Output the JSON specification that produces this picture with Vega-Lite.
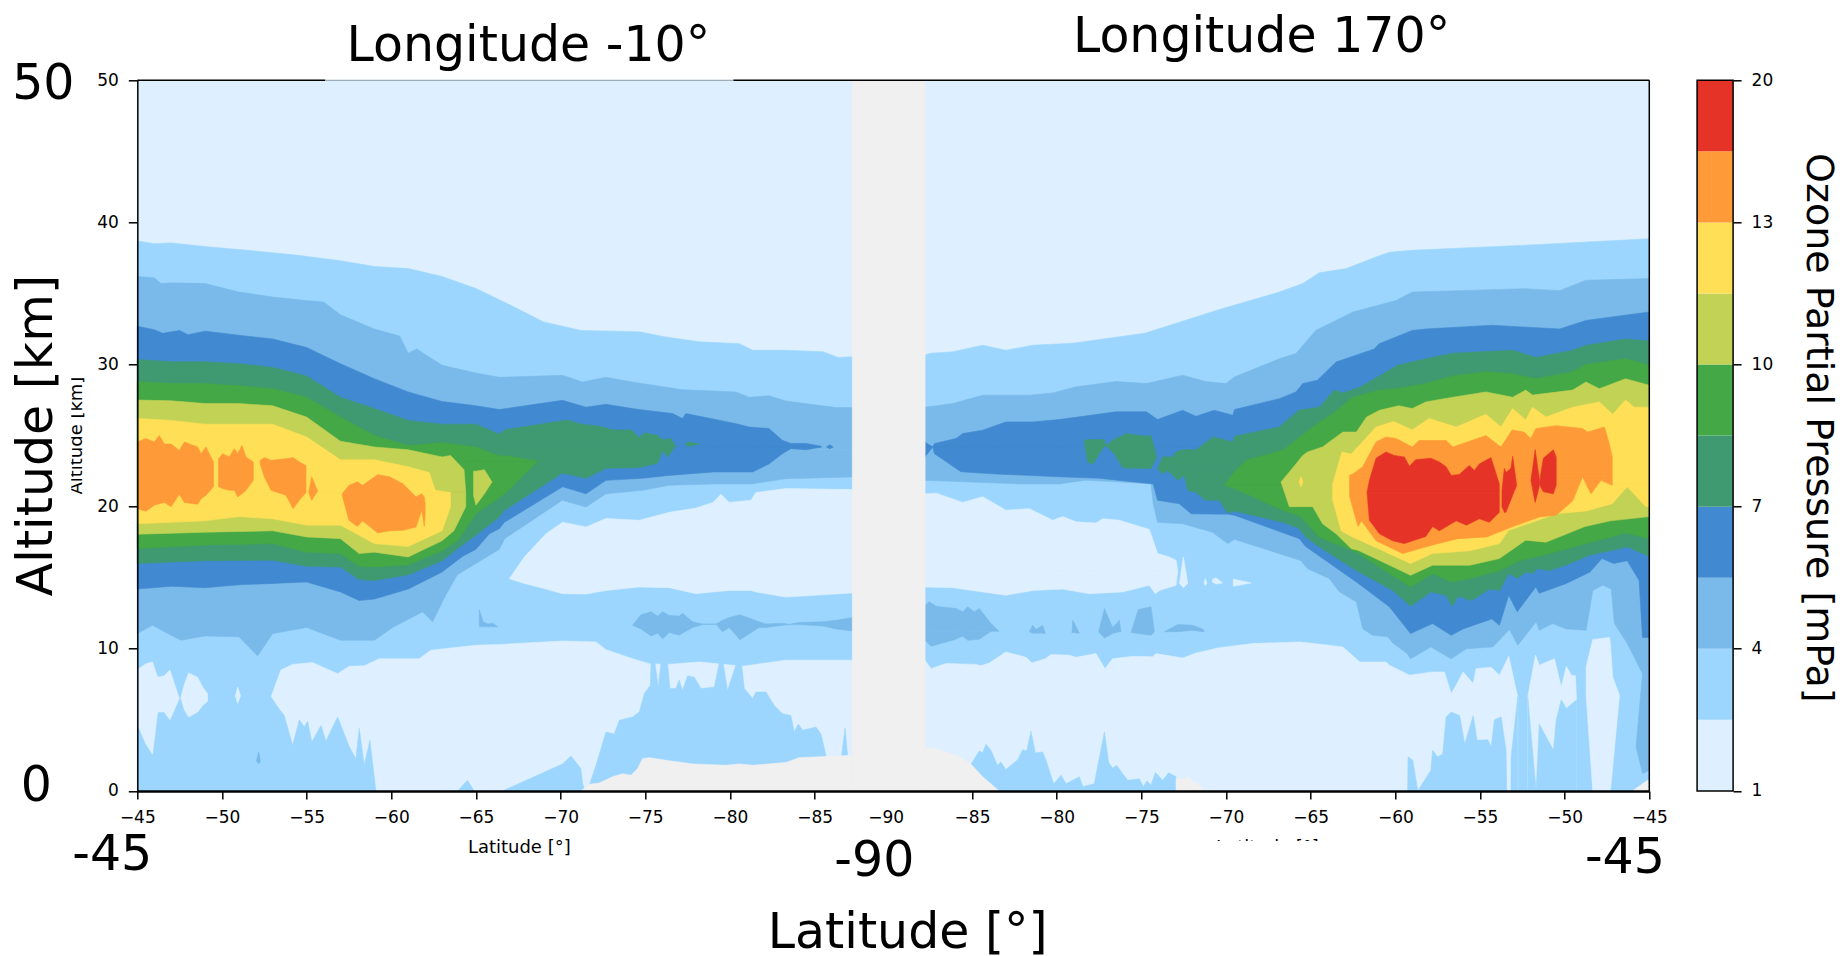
{"$schema":"https://vega.github.io/schema/vega-lite/v6.json","background":"white","padding":{"left":11.3,"top":12.3,"right":0,"bottom":0},"config":{"font":"DejaVu Sans","view":{"stroke":null}},
"datasets":{"contours":[
{"k":0,"p":0,"t":0,"a":0,"b":50},{"k":0,"p":0,"t":89.3,"a":0,"b":50},
{"k":1,"p":1,"t":0,"a":0,"b":38.7},{"k":1,"p":1,"t":1,"a":0,"b":38.5},{"k":1,"p":1,"t":2,"a":0,"b":38.55},{"k":1,"p":1,"t":4,"a":0,"b":38.3},{"k":1,"p":1,"t":6.5,"a":0,"b":38.04},{"k":1,"p":1,"t":9.4,"a":0,"b":37.7},{"k":1,"p":1,"t":12,"a":0,"b":37.3},{"k":1,"p":1,"t":14,"a":0,"b":36.9},{"k":1,"p":1,"t":16,"a":0,"b":36.75},{"k":1,"p":1,"t":18,"a":0,"b":36.2},{"k":1,"p":1,"t":20,"a":0,"b":35.35},{"k":1,"p":1,"t":22,"a":0,"b":34.2},{"k":1,"p":1,"t":24,"a":0,"b":33},{"k":1,"p":1,"t":26.2,"a":0,"b":32.4},{"k":1,"p":1,"t":29.65,"a":0,"b":32.3},{"k":1,"p":1,"t":31.2,"a":0,"b":31.94},{"k":1,"p":1,"t":33.2,"a":0,"b":31.6},{"k":1,"p":1,"t":35.55,"a":0,"b":31.47},{"k":1,"p":1,"t":36.35,"a":0,"b":31},{"k":1,"p":1,"t":38.3,"a":0,"b":31},{"k":1,"p":1,"t":40.5,"a":0,"b":30.9},{"k":1,"p":1,"t":41.4,"a":0,"b":30.5},{"k":1,"p":1,"t":42.25,"a":0,"b":30.55},
{"k":0,"p":2,"t":0,"a":4.7,"b":8.53},{"k":0,"p":2,"t":0.51,"a":3.3,"b":8.95},{"k":0,"p":2,"t":0.9,"a":2.58,"b":9.07},{"k":0,"p":2,"t":1.2,"a":5.55,"b":8},{"k":0,"p":2,"t":1.59,"a":5.55,"b":8.1},{"k":0,"p":2,"t":1.93,"a":5,"b":8.5},{"k":0,"p":2,"t":2.48,"a":6.5,"b":6.5},
{"k":0,"p":3,"t":2.58,"a":6.5,"b":6.6},{"k":0,"p":3,"t":2.78,"a":5.7,"b":7.5},{"k":0,"p":3,"t":3.03,"a":5.2,"b":8.3},{"k":0,"p":3,"t":3.56,"a":5.55,"b":8},{"k":0,"p":3,"t":3.86,"a":6,"b":7.3},{"k":0,"p":3,"t":4.15,"a":6.3,"b":6.85},
{"k":0,"p":4,"t":5.79,"a":6.7,"b":6.7},{"k":0,"p":4,"t":5.93,"a":6.15,"b":7.3},{"k":0,"p":4,"t":6.1,"a":6.7,"b":6.7},
{"k":0,"p":5,"t":7.9,"a":0,"b":6.6},{"k":0,"p":5,"t":8.48,"a":0,"b":8.5},{"k":0,"p":5,"t":9.17,"a":0,"b":8.9},{"k":0,"p":5,"t":10.35,"a":0,"b":9.03},{"k":0,"p":5,"t":11.83,"a":0,"b":8.25},{"k":0,"p":5,"t":12.52,"a":0,"b":8.77},{"k":0,"p":5,"t":13.4,"a":0,"b":8.8},{"k":0,"p":5,"t":14.29,"a":0,"b":9.3},{"k":0,"p":5,"t":16.65,"a":0,"b":9.3},{"k":0,"p":5,"t":17.34,"a":0,"b":9.9},{"k":0,"p":5,"t":20,"a":0,"b":10.25},{"k":0,"p":5,"t":21.38,"a":0,"b":10.3},{"k":0,"p":5,"t":25.12,"a":0,"b":10.55},{"k":0,"p":5,"t":27.09,"a":0,"b":10.48},{"k":0,"p":5,"t":27.68,"a":0,"b":9.94},{"k":0,"p":5,"t":29.25,"a":0,"b":9.3},{"k":0,"p":5,"t":30.24,"a":0,"b":8.95},{"k":0,"p":5,"t":31.32,"a":0,"b":8.9},{"k":0,"p":5,"t":33.19,"a":0,"b":9.07},{"k":0,"p":5,"t":34.27,"a":0,"b":8.95},{"k":0,"p":5,"t":35.75,"a":0,"b":8.77},{"k":0,"p":5,"t":38.31,"a":0,"b":9.2},{"k":0,"p":5,"t":42.25,"a":0,"b":9.2},
{"k":0,"p":6,"t":21.97,"a":14.93,"b":14.93},{"k":0,"p":6,"t":22.86,"a":14.6,"b":16.46},{"k":0,"p":6,"t":24.14,"a":14.2,"b":18.1},{"k":0,"p":6,"t":25.12,"a":13.88,"b":18.9},{"k":0,"p":6,"t":26.5,"a":13.85,"b":18.57},{"k":0,"p":6,"t":27.68,"a":14.1,"b":19.16},{"k":0,"p":6,"t":29.65,"a":14.35,"b":19.04},{"k":0,"p":6,"t":31.42,"a":14.3,"b":19.6},{"k":0,"p":6,"t":33,"a":13.88,"b":19.9},{"k":0,"p":6,"t":34,"a":14,"b":20.3},{"k":0,"p":6,"t":34.47,"a":14.05,"b":20.87},{"k":0,"p":6,"t":34.96,"a":14.1,"b":20.3},{"k":0,"p":6,"t":36.24,"a":14.1,"b":20.45},{"k":0,"p":6,"t":36.54,"a":14,"b":21},{"k":0,"p":6,"t":38.31,"a":13.64,"b":21.27},{"k":0,"p":6,"t":42.25,"a":13.93,"b":21.2},
{"k":1,"p":7,"t":7.8,"a":0,"b":6.6},{"k":1,"p":7,"t":7.9,"a":0,"b":6.6},{"k":1,"p":7,"t":8.29,"a":0,"b":5.9},{"k":1,"p":7,"t":8.68,"a":0,"b":5.3},{"k":1,"p":7,"t":9.17,"a":0,"b":3.2},{"k":1,"p":7,"t":9.57,"a":0,"b":5},{"k":1,"p":7,"t":9.86,"a":0,"b":4.5},{"k":1,"p":7,"t":10.06,"a":0,"b":4.9},{"k":1,"p":7,"t":10.31,"a":0,"b":3.44},{"k":1,"p":7,"t":10.85,"a":0,"b":4.6},{"k":1,"p":7,"t":11.14,"a":0,"b":3.5},{"k":1,"p":7,"t":11.83,"a":0,"b":5.2},{"k":1,"p":7,"t":12.52,"a":0,"b":3.1},{"k":1,"p":7,"t":12.91,"a":0,"b":2.27},{"k":1,"p":7,"t":13.11,"a":0,"b":4.4},{"k":1,"p":7,"t":13.4,"a":0,"b":1.8},{"k":1,"p":7,"t":13.74,"a":0,"b":3.56},{"k":1,"p":7,"t":14.09,"a":0,"b":0},
{"k":1,"p":8,"t":21.58,"a":0,"b":0},{"k":1,"p":8,"t":25.12,"a":0,"b":1.9},{"k":1,"p":8,"t":25.61,"a":0,"b":2.46},{"k":1,"p":8,"t":26.2,"a":0,"b":1.57},{"k":1,"p":8,"t":26.3,"a":0,"b":0.5},{"k":1,"p":8,"t":26.46,"a":0,"b":0},{"k":1,"p":8,"t":26.7,"a":0,"b":0.4},{"k":1,"p":8,"t":27.09,"a":0,"b":1.8},{"k":1,"p":8,"t":27.68,"a":0,"b":4.14},{"k":1,"p":8,"t":28.17,"a":0,"b":4},{"k":1,"p":8,"t":28.47,"a":0,"b":4.97},{"k":1,"p":8,"t":29.25,"a":0,"b":5.2},{"k":1,"p":8,"t":29.65,"a":0,"b":5.55},{"k":1,"p":8,"t":29.94,"a":0,"b":6.84},{"k":1,"p":8,"t":30.3,"a":0,"b":7.43},{"k":1,"p":8,"t":30.34,"a":0,"b":9},{"k":1,"p":8,"t":30.57,"a":0,"b":9},{"k":1,"p":8,"t":30.77,"a":0,"b":7.3},{"k":1,"p":8,"t":30.93,"a":0,"b":9},{"k":1,"p":8,"t":31.32,"a":0,"b":9},{"k":1,"p":8,"t":31.46,"a":0,"b":7.2},{"k":1,"p":8,"t":31.81,"a":0,"b":7.2},{"k":1,"p":8,"t":32,"a":0,"b":7.8},{"k":1,"p":8,"t":32.2,"a":0,"b":7.07},{"k":1,"p":8,"t":32.5,"a":0,"b":8.1},{"k":1,"p":8,"t":32.9,"a":0,"b":8},{"k":1,"p":8,"t":33.29,"a":0,"b":7.2},{"k":1,"p":8,"t":34.08,"a":0,"b":7.3},{"k":1,"p":8,"t":34.37,"a":0,"b":9},{"k":1,"p":8,"t":34.6,"a":0,"b":9},{"k":1,"p":8,"t":34.86,"a":0,"b":7.07},{"k":1,"p":8,"t":35.36,"a":0,"b":8.9},{"k":1,"p":8,"t":35.69,"a":0,"b":8.85},{"k":1,"p":8,"t":35.85,"a":0,"b":7.2},{"k":1,"p":8,"t":36.34,"a":0,"b":6.5},{"k":1,"p":8,"t":36.54,"a":0,"b":6.96},{"k":1,"p":8,"t":37.13,"a":0,"b":6.96},{"k":1,"p":8,"t":37.62,"a":0,"b":6},{"k":1,"p":8,"t":38.11,"a":0,"b":5.43},{"k":1,"p":8,"t":38.6,"a":0,"b":5.3},{"k":1,"p":8,"t":38.8,"a":0,"b":4.14},{"k":1,"p":8,"t":39.04,"a":0,"b":4.7},{"k":1,"p":8,"t":39.3,"a":0,"b":4.26},{"k":1,"p":8,"t":40.08,"a":0,"b":4.5},{"k":1,"p":8,"t":40.38,"a":0,"b":4},{"k":1,"p":8,"t":40.67,"a":0,"b":2.5},{"k":1,"p":8,"t":40.77,"a":0,"b":0},{"k":1,"p":8,"t":41.5,"a":0,"b":0},{"k":1,"p":8,"t":41.6,"a":0,"b":2.5},{"k":1,"p":8,"t":41.8,"a":0,"b":4.4},{"k":1,"p":8,"t":41.95,"a":0,"b":2.5},{"k":1,"p":8,"t":42,"a":0,"b":0},
{"k":1,"p":9,"t":18.92,"a":0,"b":0},{"k":1,"p":9,"t":19.5,"a":0,"b":0.75},{"k":1,"p":9,"t":19.9,"a":0,"b":0},
{"k":2,"p":10,"t":7.03,"a":2.1,"b":2.1},{"k":2,"p":10,"t":7.17,"a":1.9,"b":2.75},{"k":2,"p":10,"t":7.27,"a":2.1,"b":2.1},
{"k":2,"p":11,"t":20.2,"a":11.55,"b":12.75},{"k":2,"p":11,"t":20.43,"a":11.55,"b":11.9},{"k":2,"p":11,"t":20.7,"a":11.55,"b":11.75},{"k":2,"p":11,"t":21,"a":11.55,"b":11.8},{"k":2,"p":11,"t":21.28,"a":11.55,"b":11.55},
{"k":2,"p":12,"t":29.25,"a":11.65,"b":11.65},{"k":2,"p":12,"t":29.75,"a":11.4,"b":12.4},{"k":2,"p":12,"t":30.34,"a":10.9,"b":12.6},{"k":2,"p":12,"t":30.73,"a":11.1,"b":12.3},{"k":2,"p":12,"t":31.03,"a":10.7,"b":12.6},{"k":2,"p":12,"t":31.42,"a":11.15,"b":12.35},{"k":2,"p":12,"t":32.01,"a":10.95,"b":12.3},{"k":2,"p":12,"t":32.2,"a":11.1,"b":12.5},{"k":2,"p":12,"t":32.8,"a":11.5,"b":11.9},{"k":2,"p":12,"t":33.39,"a":11.7,"b":11.75},{"k":2,"p":12,"t":34.18,"a":11.72,"b":11.75},{"k":2,"p":12,"t":34.57,"a":11.2,"b":12},{"k":2,"p":12,"t":34.96,"a":11.5,"b":12.2},{"k":2,"p":12,"t":35.59,"a":10.64,"b":12.4},{"k":2,"p":12,"t":36.73,"a":11.5,"b":11.9},{"k":2,"p":12,"t":37.13,"a":11.5,"b":11.75},{"k":2,"p":12,"t":38.11,"a":11.65,"b":11.8},{"k":2,"p":12,"t":38.5,"a":11.7,"b":11.72},{"k":2,"p":12,"t":39.1,"a":11.7,"b":11.85},{"k":2,"p":12,"t":40.48,"a":11.6,"b":11.9},{"k":2,"p":12,"t":41.26,"a":11.4,"b":12},{"k":2,"p":12,"t":42.25,"a":11.25,"b":12.2},
{"k":2,"p":13,"t":0,"a":24,"b":36.2},{"k":2,"p":13,"t":1,"a":24,"b":36.1},{"k":2,"p":13,"t":1.4,"a":24,"b":35.7},{"k":2,"p":13,"t":2,"a":24,"b":35.75},{"k":2,"p":13,"t":4,"a":24,"b":35.7},{"k":2,"p":13,"t":6,"a":24,"b":35.1},{"k":2,"p":13,"t":8,"a":24,"b":34.75},{"k":2,"p":13,"t":10,"a":24,"b":34.5},{"k":2,"p":13,"t":11,"a":24,"b":34.4},{"k":2,"p":13,"t":12,"a":24,"b":33.5},{"k":2,"p":13,"t":14,"a":24,"b":32.5},{"k":2,"p":13,"t":15.5,"a":24,"b":32},{"k":2,"p":13,"t":16,"a":24,"b":30.8},{"k":2,"p":13,"t":16.5,"a":24,"b":31.1},{"k":2,"p":13,"t":18,"a":24,"b":29.95},{"k":2,"p":13,"t":20,"a":24,"b":29.4},{"k":2,"p":13,"t":21.38,"a":24,"b":29.1},{"k":2,"p":13,"t":25.12,"a":24,"b":29.24},{"k":2,"p":13,"t":26.3,"a":24,"b":28.77},{"k":2,"p":13,"t":27.68,"a":24,"b":29.1},{"k":2,"p":13,"t":29.25,"a":24,"b":28.77},{"k":2,"p":13,"t":32.2,"a":24,"b":28.23},{"k":2,"p":13,"t":35.36,"a":24,"b":28.07},{"k":2,"p":13,"t":36.14,"a":24,"b":27.7},{"k":2,"p":13,"t":37.3,"a":24,"b":27.8},{"k":2,"p":13,"t":38.3,"a":24,"b":27.44},{"k":2,"p":13,"t":41.26,"a":24,"b":26.97},{"k":2,"p":13,"t":42.25,"a":24,"b":26.97},
{"k":2,"p":14,"t":0,"a":11.07,"b":24},{"k":2,"p":14,"t":0.9,"a":11.65,"b":24},{"k":2,"p":14,"t":2,"a":10.95,"b":24},{"k":2,"p":14,"t":2.58,"a":10.6,"b":24},{"k":2,"p":14,"t":4,"a":10.9,"b":24},{"k":2,"p":14,"t":6,"a":10.84,"b":24},{"k":2,"p":14,"t":7.1,"a":9.5,"b":24},{"k":2,"p":14,"t":8,"a":11.07,"b":24},{"k":2,"p":14,"t":10,"a":11.5,"b":24},{"k":2,"p":14,"t":12,"a":10.6,"b":24},{"k":2,"p":14,"t":14,"a":10.6,"b":24},{"k":2,"p":14,"t":15.08,"a":11.5,"b":24},{"k":2,"p":14,"t":16.85,"a":12.6,"b":24},{"k":2,"p":14,"t":17.44,"a":11.9,"b":24},{"k":2,"p":14,"t":18.23,"a":13.8,"b":24},{"k":2,"p":14,"t":18.9,"a":15.2,"b":24},{"k":2,"p":14,"t":20,"a":16,"b":24},{"k":2,"p":14,"t":21.38,"a":17,"b":24},{"k":2,"p":14,"t":21.7,"a":17.75,"b":24},{"k":2,"p":14,"t":25.1,"a":20.45,"b":24},{"k":2,"p":14,"t":26.5,"a":19.98,"b":24},{"k":2,"p":14,"t":27.68,"a":20.9,"b":24},{"k":2,"p":14,"t":29.85,"a":21.15,"b":24},{"k":2,"p":14,"t":31.4,"a":21.5,"b":24},{"k":2,"p":14,"t":34,"a":21.6,"b":24},{"k":2,"p":14,"t":36.3,"a":21.6,"b":24},{"k":2,"p":14,"t":38.3,"a":21.97,"b":24},{"k":2,"p":14,"t":42.25,"a":22.09,"b":24},
{"k":3,"p":15,"t":0,"a":24.2,"b":32.7},{"k":3,"p":15,"t":1,"a":24.2,"b":32.45},{"k":3,"p":15,"t":1.5,"a":24.2,"b":32.2},{"k":3,"p":15,"t":2.5,"a":24.2,"b":32.4},{"k":3,"p":15,"t":3,"a":24.2,"b":32.1},{"k":3,"p":15,"t":4,"a":24.2,"b":32.35},{"k":3,"p":15,"t":6,"a":24.2,"b":32.06},{"k":3,"p":15,"t":8,"a":24.2,"b":31.8},{"k":3,"p":15,"t":10,"a":24.2,"b":31.2},{"k":3,"p":15,"t":12,"a":24.2,"b":30.06},{"k":3,"p":15,"t":14,"a":24.2,"b":29},{"k":3,"p":15,"t":16,"a":24.2,"b":28.07},{"k":3,"p":15,"t":18,"a":24.2,"b":27.4},{"k":3,"p":15,"t":20,"a":24.2,"b":27.1},{"k":3,"p":15,"t":21.38,"a":24.2,"b":26.83},{"k":3,"p":15,"t":25.12,"a":24.2,"b":27.48},{"k":3,"p":15,"t":26.5,"a":24.2,"b":27},{"k":3,"p":15,"t":27.68,"a":24.2,"b":27.2},{"k":3,"p":15,"t":29.25,"a":24.2,"b":26.9},{"k":3,"p":15,"t":29.85,"a":24.2,"b":26.8},{"k":3,"p":15,"t":31.62,"a":24.2,"b":26.55},{"k":3,"p":15,"t":32.2,"a":24.2,"b":26.2},{"k":3,"p":15,"t":32.4,"a":24.2,"b":26.55},{"k":3,"p":15,"t":35.36,"a":24.2,"b":25.84},{"k":3,"p":15,"t":36.14,"a":24.2,"b":25.6},{"k":3,"p":15,"t":37.3,"a":24.2,"b":25.5},{"k":3,"p":15,"t":38.1,"a":24.2,"b":24.67},{"k":3,"p":15,"t":38.6,"a":24.2,"b":24.45},{"k":3,"p":15,"t":39.5,"a":24.2,"b":24.45},{"k":3,"p":15,"t":40.4,"a":24.2,"b":24.25},
{"k":3,"p":16,"t":0,"a":14.2,"b":24.2},{"k":3,"p":16,"t":2,"a":14.4,"b":24.2},{"k":3,"p":16,"t":4,"a":14.3,"b":24.2},{"k":3,"p":16,"t":6,"a":14.5,"b":24.2},{"k":3,"p":16,"t":8,"a":14.6,"b":24.2},{"k":3,"p":16,"t":10,"a":14.7,"b":24.2},{"k":3,"p":16,"t":12,"a":14,"b":24.2},{"k":3,"p":16,"t":13.1,"a":13.4,"b":24.2},{"k":3,"p":16,"t":14,"a":13.5,"b":24.2},{"k":3,"p":16,"t":16,"a":14.2,"b":24.2},{"k":3,"p":16,"t":18,"a":15.4,"b":24.2},{"k":3,"p":16,"t":19.2,"a":16.5,"b":24.2},{"k":3,"p":16,"t":20,"a":17,"b":24.2},{"k":3,"p":16,"t":20.8,"a":18.1,"b":24.2},{"k":3,"p":16,"t":21.38,"a":18.45,"b":24.2},{"k":3,"p":16,"t":21.68,"a":18.9,"b":24.2},{"k":3,"p":16,"t":25.12,"a":21.4,"b":24.2},{"k":3,"p":16,"t":26.5,"a":20.9,"b":24.2},{"k":3,"p":16,"t":27.68,"a":21.85,"b":24.2},{"k":3,"p":16,"t":29.85,"a":22,"b":24.2},{"k":3,"p":16,"t":31.4,"a":22.2,"b":24.2},{"k":3,"p":16,"t":34,"a":22.44,"b":24.2},{"k":3,"p":16,"t":36.34,"a":22.44,"b":24.2},{"k":3,"p":16,"t":37.3,"a":23,"b":24.2},{"k":3,"p":16,"t":38.1,"a":23.73,"b":24.2},{"k":3,"p":16,"t":38.6,"a":24.08,"b":24.2},{"k":3,"p":16,"t":39.5,"a":24,"b":24.2},{"k":3,"p":16,"t":40.4,"a":24.2,"b":24.2},
{"k":3,"p":17,"t":40.7,"a":24.2,"b":24.2},{"k":3,"p":17,"t":40.9,"a":24.08,"b":24.35},{"k":3,"p":17,"t":41.1,"a":24.2,"b":24.2},
{"k":4,"p":18,"t":0,"a":24.3,"b":30.35},{"k":4,"p":18,"t":2,"a":24.3,"b":30.2},{"k":4,"p":18,"t":4,"a":24.3,"b":30.2},{"k":4,"p":18,"t":6,"a":24.3,"b":30.06},{"k":4,"p":18,"t":8,"a":24.3,"b":29.8},{"k":4,"p":18,"t":10,"a":24.3,"b":29.2},{"k":4,"p":18,"t":12,"a":24.3,"b":27.7},{"k":4,"p":18,"t":14,"a":24.3,"b":26.9},{"k":4,"p":18,"t":16,"a":24.3,"b":26.07},{"k":4,"p":18,"t":18,"a":24.3,"b":25.8},{"k":4,"p":18,"t":20,"a":24.3,"b":25.8},{"k":4,"p":18,"t":21.38,"a":24.3,"b":25.1},{"k":4,"p":18,"t":21.68,"a":24.3,"b":25.4},{"k":4,"p":18,"t":25.4,"a":24.3,"b":26.1},{"k":4,"p":18,"t":26.1,"a":24.3,"b":25.84},{"k":4,"p":18,"t":27.3,"a":24.3,"b":25.65},{"k":4,"p":18,"t":28.1,"a":24.3,"b":25.4},{"k":4,"p":18,"t":29.2,"a":24.3,"b":25.4},{"k":4,"p":18,"t":29.65,"a":24.3,"b":24.85},{"k":4,"p":18,"t":29.94,"a":24.3,"b":25.2},{"k":4,"p":18,"t":30.73,"a":24.3,"b":25},{"k":4,"p":18,"t":31.03,"a":24.3,"b":24.7},{"k":4,"p":18,"t":31.52,"a":24.3,"b":24.8},{"k":4,"p":18,"t":31.7,"a":24.3,"b":24.4},{"k":4,"p":18,"t":31.8,"a":24.3,"b":24.3},
{"k":4,"p":19,"t":0,"a":16,"b":24.3},{"k":4,"p":19,"t":4,"a":16.2,"b":24.3},{"k":4,"p":19,"t":8,"a":16.23,"b":24.3},{"k":4,"p":19,"t":10,"a":15.8,"b":24.3},{"k":4,"p":19,"t":12,"a":15.76,"b":24.3},{"k":4,"p":19,"t":13.1,"a":14.87,"b":24.3},{"k":4,"p":19,"t":14,"a":14.8,"b":24.3},{"k":4,"p":19,"t":16,"a":15.2,"b":24.3},{"k":4,"p":19,"t":18,"a":16.2,"b":24.3},{"k":4,"p":19,"t":19.2,"a":17.3,"b":24.3},{"k":4,"p":19,"t":20,"a":18,"b":24.3},{"k":4,"p":19,"t":21.38,"a":19.27,"b":24.3},{"k":4,"p":19,"t":21.68,"a":19.74,"b":24.3},{"k":4,"p":19,"t":25.12,"a":22.37,"b":24.3},{"k":4,"p":19,"t":26.5,"a":22,"b":24.3},{"k":4,"p":19,"t":27.68,"a":22.7,"b":24.3},{"k":4,"p":19,"t":29.65,"a":22.75,"b":24.3},{"k":4,"p":19,"t":30.04,"a":22.85,"b":24.3},{"k":4,"p":19,"t":30.73,"a":23.07,"b":24.3},{"k":4,"p":19,"t":31.03,"a":23.96,"b":24.3},{"k":4,"p":19,"t":31.32,"a":23.5,"b":24.3},{"k":4,"p":19,"t":31.8,"a":24.3,"b":24.3},
{"k":4,"p":20,"t":32.35,"a":24.4,"b":24.4},{"k":4,"p":20,"t":32.55,"a":24.25,"b":24.55},{"k":4,"p":20,"t":33.2,"a":24.4,"b":24.4},
{"k":5,"p":21,"t":0,"a":23.2,"b":28.8},{"k":5,"p":21,"t":2,"a":23.2,"b":28.66},{"k":5,"p":21,"t":4,"a":23.2,"b":28.66},{"k":5,"p":21,"t":6,"a":23.2,"b":28.5},{"k":5,"p":21,"t":8,"a":23.2,"b":28.3},{"k":5,"p":21,"t":10,"a":23.2,"b":27.7},{"k":5,"p":21,"t":12,"a":23.2,"b":26.3},{"k":5,"p":21,"t":14,"a":23.2,"b":25},{"k":5,"p":21,"t":16,"a":23.2,"b":24.3},{"k":5,"p":21,"t":18,"a":23.2,"b":24.5},{"k":5,"p":21,"t":20,"a":23.2,"b":24.2},{"k":5,"p":21,"t":21.38,"a":23.2,"b":23.54},{"k":5,"p":21,"t":21.68,"a":23.2,"b":23.6},{"k":5,"p":21,"t":23.64,"a":23.2,"b":23.2},
{"k":5,"p":22,"t":0,"a":17.05,"b":23.2},{"k":5,"p":22,"t":4,"a":17.3,"b":23.2},{"k":5,"p":22,"t":8,"a":17.4,"b":23.2},{"k":5,"p":22,"t":10,"a":16.8,"b":23.2},{"k":5,"p":22,"t":12,"a":16.7,"b":23.2},{"k":5,"p":22,"t":13.1,"a":15.8,"b":23.2},{"k":5,"p":22,"t":14,"a":15.76,"b":23.2},{"k":5,"p":22,"t":16,"a":15.9,"b":23.2},{"k":5,"p":22,"t":18,"a":16.9,"b":23.2},{"k":5,"p":22,"t":18.9,"a":17.6,"b":23.2},{"k":5,"p":22,"t":20,"a":19.5,"b":23.2},{"k":5,"p":22,"t":21.7,"a":20.9,"b":23.2},{"k":5,"p":22,"t":23.64,"a":23.2,"b":23.2},
{"k":6,"p":23,"t":0,"a":21,"b":27.5},{"k":6,"p":23,"t":2,"a":21,"b":27.45},{"k":6,"p":23,"t":4,"a":21,"b":27.25},{"k":6,"p":23,"t":6,"a":21,"b":27.25},{"k":6,"p":23,"t":8,"a":21,"b":27.1},{"k":6,"p":23,"t":10,"a":21,"b":26.3},{"k":6,"p":23,"t":12,"a":21,"b":24.6},{"k":6,"p":23,"t":14,"a":21,"b":24.2},{"k":6,"p":23,"t":16,"a":21,"b":24},{"k":6,"p":23,"t":18,"a":21,"b":23.5},{"k":6,"p":23,"t":18.5,"a":21,"b":23.6},{"k":6,"p":23,"t":19.3,"a":21,"b":22.6},{"k":6,"p":23,"t":19.4,"a":21,"b":21},
{"k":6,"p":24,"t":0,"a":18.06,"b":21},{"k":6,"p":24,"t":4,"a":18.2,"b":21},{"k":6,"p":24,"t":8,"a":18.3,"b":21},{"k":6,"p":24,"t":10,"a":17.87,"b":21},{"k":6,"p":24,"t":12,"a":17.75,"b":21},{"k":6,"p":24,"t":13.1,"a":16.7,"b":21},{"k":6,"p":24,"t":14,"a":16.8,"b":21},{"k":6,"p":24,"t":16,"a":16.46,"b":21},{"k":6,"p":24,"t":18,"a":17.6,"b":21},{"k":6,"p":24,"t":18.7,"a":18.3,"b":21},{"k":6,"p":24,"t":19.4,"a":20,"b":21},
{"k":6,"p":25,"t":19.86,"a":20.8,"b":22.5},{"k":6,"p":25,"t":20,"a":20.1,"b":22.5},{"k":6,"p":25,"t":20.5,"a":20.9,"b":22.6},{"k":6,"p":25,"t":20.95,"a":21.74,"b":21.74},
{"k":7,"p":26,"t":0,"a":21,"b":26.2},{"k":7,"p":26,"t":2,"a":21,"b":26.07},{"k":7,"p":26,"t":4,"a":21,"b":25.8},{"k":7,"p":26,"t":6,"a":21,"b":25.8},{"k":7,"p":26,"t":8,"a":21,"b":25.8},{"k":7,"p":26,"t":10,"a":21,"b":24.9},{"k":7,"p":26,"t":12,"a":21,"b":23.3},{"k":7,"p":26,"t":14,"a":21,"b":23.3},{"k":7,"p":26,"t":16,"a":21,"b":22.8},{"k":7,"p":26,"t":17.24,"a":21,"b":22.4},{"k":7,"p":26,"t":17.6,"a":21,"b":21.15},{"k":7,"p":26,"t":18.5,"a":21,"b":21},
{"k":7,"p":27,"t":0,"a":18.8,"b":21},{"k":7,"p":27,"t":2,"a":18.9,"b":21},{"k":7,"p":27,"t":4,"a":19,"b":21},{"k":7,"p":27,"t":6,"a":19.3,"b":21},{"k":7,"p":27,"t":8,"a":19.15,"b":21},{"k":7,"p":27,"t":10,"a":18.7,"b":21},{"k":7,"p":27,"t":12,"a":18.7,"b":21},{"k":7,"p":27,"t":14,"a":17.4,"b":21},{"k":7,"p":27,"t":16,"a":17.2,"b":21},{"k":7,"p":27,"t":18,"a":18.3,"b":21},{"k":7,"p":27,"t":18.5,"a":20,"b":21},
{"k":8,"p":28,"t":0,"a":19.86,"b":24.55},{"k":8,"p":28,"t":0.51,"a":19.67,"b":24.8},{"k":8,"p":28,"t":1,"a":20.1,"b":24.55},{"k":8,"p":28,"t":1.3,"a":20.2,"b":25},{"k":8,"p":28,"t":1.6,"a":20.3,"b":24.4},{"k":8,"p":28,"t":2,"a":20,"b":24.4},{"k":8,"p":28,"t":2.48,"a":20.87,"b":23.96},{"k":8,"p":28,"t":2.78,"a":20.3,"b":24.55},{"k":8,"p":28,"t":3.56,"a":20.17,"b":24.2},{"k":8,"p":28,"t":3.76,"a":20.55,"b":23.73},{"k":8,"p":28,"t":4.05,"a":20.8,"b":24.2},{"k":8,"p":28,"t":4.5,"a":21.4,"b":23.14},
{"k":8,"p":29,"t":4.8,"a":21.4,"b":23.37},{"k":8,"p":29,"t":5.04,"a":21.27,"b":23.73},{"k":8,"p":29,"t":5.43,"a":21.15,"b":23.5},{"k":8,"p":29,"t":5.73,"a":21.15,"b":24.08},{"k":8,"p":29,"t":5.93,"a":20.68,"b":23.73},{"k":8,"p":29,"t":6.18,"a":20.9,"b":24.3},{"k":8,"p":29,"t":6.42,"a":21.15,"b":23.5},{"k":8,"p":29,"t":6.85,"a":21.85,"b":23.14},
{"k":8,"p":30,"t":7.26,"a":23,"b":23.26},{"k":8,"p":30,"t":7.5,"a":22.1,"b":23.45},{"k":8,"p":30,"t":7.9,"a":21.15,"b":23.26},{"k":8,"p":30,"t":8.78,"a":20.8,"b":23.37},{"k":8,"p":30,"t":9.2,"a":19.86,"b":23.45},{"k":8,"p":30,"t":9.57,"a":20.45,"b":23.14},{"k":8,"p":30,"t":9.96,"a":21,"b":22.9},
{"k":8,"p":31,"t":10.12,"a":21,"b":21},{"k":8,"p":31,"t":10.3,"a":20.45,"b":22.1},{"k":8,"p":31,"t":10.65,"a":21.1,"b":21.1},
{"k":8,"p":32,"t":12.1,"a":20.8,"b":20.9},{"k":8,"p":32,"t":12.5,"a":19.04,"b":21.5},{"k":8,"p":32,"t":13,"a":18.6,"b":21.74},{"k":8,"p":32,"t":13.3,"a":19,"b":21.5},{"k":8,"p":32,"t":14.2,"a":18.15,"b":22.25},{"k":8,"p":32,"t":14.9,"a":18.3,"b":22.1},{"k":8,"p":32,"t":15.7,"a":18.34,"b":21.6},{"k":8,"p":32,"t":16.46,"a":18.57,"b":20.68},{"k":8,"p":32,"t":16.8,"a":19.74,"b":20.9},{"k":8,"p":32,"t":16.95,"a":18.6,"b":20.68},{"k":8,"p":32,"t":17,"a":19.5,"b":20.2},
{"k":1,"p":40,"t":46.5,"a":0,"b":30.66},{"k":1,"p":40,"t":46.86,"a":0,"b":30.8},{"k":1,"p":40,"t":48.2,"a":0,"b":30.9},{"k":1,"p":40,"t":49.93,"a":0,"b":31.36},{"k":1,"p":40,"t":51.3,"a":0,"b":31},{"k":1,"p":40,"t":52.88,"a":0,"b":31.36},{"k":1,"p":40,"t":55.25,"a":0,"b":31.5},{"k":1,"p":40,"t":59.5,"a":0,"b":32.2},{"k":1,"p":40,"t":64,"a":0,"b":33.9},{"k":1,"p":40,"t":67.45,"a":0,"b":35.1},{"k":1,"p":40,"t":68.83,"a":0,"b":35.7},{"k":1,"p":40,"t":69.81,"a":0,"b":36.45},{"k":1,"p":40,"t":71.4,"a":0,"b":36.75},{"k":1,"p":40,"t":73.16,"a":0,"b":37.57},{"k":1,"p":40,"t":73.95,"a":0,"b":37.9},{"k":1,"p":40,"t":75.3,"a":0,"b":38.04},{"k":1,"p":40,"t":82,"a":0,"b":38.4},{"k":1,"p":40,"t":89.3,"a":0,"b":38.85},
{"k":0,"p":41,"t":46.52,"a":0,"b":9.2},{"k":0,"p":41,"t":46.88,"a":0,"b":8.6},{"k":0,"p":41,"t":47.76,"a":0,"b":8.96},{"k":0,"p":41,"t":49.54,"a":0,"b":8.9},{"k":0,"p":41,"t":49.83,"a":0,"b":8.8},{"k":0,"p":41,"t":50.32,"a":0,"b":9},{"k":0,"p":41,"t":51.3,"a":0,"b":9.78},{"k":0,"p":41,"t":52.49,"a":0,"b":9.4},{"k":0,"p":41,"t":52.84,"a":0,"b":9},{"k":0,"p":41,"t":53.63,"a":0,"b":9.3},{"k":0,"p":41,"t":53.97,"a":0,"b":9.6},{"k":0,"p":41,"t":55.05,"a":0,"b":9.55},{"k":0,"p":41,"t":55.44,"a":0,"b":9.4},{"k":0,"p":41,"t":56.62,"a":0,"b":9.66},{"k":0,"p":41,"t":57.15,"a":0,"b":8.6},{"k":0,"p":41,"t":57.6,"a":0,"b":9.3},{"k":0,"p":41,"t":58.79,"a":0,"b":9.47},{"k":0,"p":41,"t":59.97,"a":0,"b":9.43},{"k":0,"p":41,"t":60.17,"a":0,"b":9.66},{"k":0,"p":41,"t":61.74,"a":0,"b":9.35},{"k":0,"p":41,"t":62.53,"a":0,"b":9.7},{"k":0,"p":41,"t":63.9,"a":0,"b":10.08},{"k":0,"p":41,"t":65.87,"a":0,"b":10.37},{"k":0,"p":41,"t":68.64,"a":0,"b":10.48},{"k":0,"p":41,"t":70.02,"a":0,"b":10.3},{"k":0,"p":41,"t":71.2,"a":0,"b":10.13},{"k":0,"p":41,"t":72.2,"a":0,"b":9.07},{"k":0,"p":41,"t":73.76,"a":0,"b":9.07},{"k":0,"p":41,"t":73.95,"a":0,"b":8.84},{"k":0,"p":41,"t":75.14,"a":0,"b":8.14},{"k":0,"p":41,"t":76.5,"a":0,"b":8.37},{"k":0,"p":41,"t":77.2,"a":0,"b":8.37},{"k":0,"p":41,"t":77.6,"a":0,"b":6.85},{"k":0,"p":41,"t":77.9,"a":0,"b":7.45},{"k":0,"p":41,"t":78.3,"a":0,"b":8.37},{"k":0,"p":41,"t":78.9,"a":0,"b":7.55},{"k":0,"p":41,"t":79.07,"a":0,"b":8.6},{"k":0,"p":41,"t":79.96,"a":0,"b":8.7},{"k":0,"p":41,"t":80.45,"a":0,"b":8.14},{"k":0,"p":41,"t":81,"a":0,"b":9.47},{"k":0,"p":41,"t":81.53,"a":0,"b":6.6},
{"k":0,"p":42,"t":82.12,"a":0,"b":6.6},{"k":0,"p":42,"t":82.58,"a":0,"b":9.54},{"k":0,"p":42,"t":82.8,"a":0,"b":8.84},{"k":0,"p":42,"t":83.7,"a":0,"b":9.3},{"k":0,"p":42,"t":84.1,"a":0,"b":7.3},{"k":0,"p":42,"t":84.4,"a":0,"b":8.77},{"k":0,"p":42,"t":84.7,"a":0,"b":8.14},{"k":0,"p":42,"t":84.94,"a":0,"b":8.1},{"k":0,"p":42,"t":85,"a":0,"b":6.4},
{"k":0,"p":43,"t":85.57,"a":6.73,"b":8.72},{"k":0,"p":43,"t":85.96,"a":0,"b":10.65},{"k":0,"p":43,"t":86.95,"a":0,"b":10.8},{"k":0,"p":43,"t":87,"a":0,"b":10.4},{"k":0,"p":43,"t":87.14,"a":1.7,"b":8},{"k":0,"p":43,"t":87.54,"a":6.73,"b":6.73},
{"k":1,"p":44,"t":49.2,"a":0,"b":0},{"k":1,"p":44,"t":49.24,"a":0,"b":1.87},{"k":1,"p":44,"t":49.73,"a":0,"b":2.8},{"k":1,"p":44,"t":49.93,"a":0,"b":2.7},{"k":1,"p":44,"t":50.13,"a":0,"b":3.28},{"k":1,"p":44,"t":50.42,"a":0,"b":2.85},{"k":1,"p":44,"t":50.8,"a":0,"b":1.8},{"k":1,"p":44,"t":51,"a":0,"b":2.04},{"k":1,"p":44,"t":51.3,"a":0,"b":1.5},{"k":1,"p":44,"t":52,"a":0,"b":2.2},{"k":1,"p":44,"t":52.29,"a":0,"b":2.9},{"k":1,"p":44,"t":52.53,"a":0,"b":2.8},{"k":1,"p":44,"t":52.78,"a":0,"b":4.2},{"k":1,"p":44,"t":53.04,"a":0,"b":2.67},{"k":1,"p":44,"t":53.47,"a":0,"b":2.74},{"k":1,"p":44,"t":53.67,"a":0,"b":2.15},{"k":1,"p":44,"t":54.12,"a":0,"b":0.5},{"k":1,"p":44,"t":54.56,"a":0,"b":1.1},{"k":1,"p":44,"t":54.85,"a":0,"b":0.5},{"k":1,"p":44,"t":55.64,"a":0,"b":1},{"k":1,"p":44,"t":55.84,"a":0,"b":0.3},{"k":1,"p":44,"t":56.52,"a":0,"b":0.5},{"k":1,"p":44,"t":57.12,"a":0,"b":4.15},{"k":1,"p":44,"t":57.37,"a":0,"b":2},{"k":1,"p":44,"t":57.6,"a":0,"b":1.6},{"k":1,"p":44,"t":57.84,"a":0,"b":1.8},{"k":1,"p":44,"t":58.2,"a":0,"b":1.2},{"k":1,"p":44,"t":58.5,"a":0,"b":0.75},{"k":1,"p":44,"t":59.18,"a":0,"b":0.85},{"k":1,"p":44,"t":59.42,"a":0,"b":0.3},{"k":1,"p":44,"t":59.63,"a":0,"b":0.7},{"k":1,"p":44,"t":59.87,"a":0,"b":0.4},{"k":1,"p":44,"t":60.13,"a":0,"b":1.3},{"k":1,"p":44,"t":60.56,"a":0,"b":0.75},{"k":1,"p":44,"t":60.91,"a":0,"b":1.27},{"k":1,"p":44,"t":61.35,"a":0,"b":1},{"k":1,"p":44,"t":61.4,"a":0,"b":0},
{"k":1,"p":45,"t":75.03,"a":0,"b":0},{"k":1,"p":45,"t":75.05,"a":0,"b":2.4},{"k":1,"p":45,"t":75.33,"a":0,"b":2.15},{"k":1,"p":45,"t":75.63,"a":0,"b":0},{"k":1,"p":45,"t":76.4,"a":0,"b":1.45},{"k":1,"p":45,"t":76.5,"a":0,"b":2.86},{"k":1,"p":45,"t":76.8,"a":0,"b":2.4},{"k":1,"p":45,"t":77.1,"a":0,"b":2.6},{"k":1,"p":45,"t":77.3,"a":0,"b":5.2},{"k":1,"p":45,"t":77.6,"a":0,"b":5.55},{"k":1,"p":45,"t":78.1,"a":0,"b":5.3},{"k":1,"p":45,"t":78.4,"a":0,"b":3.3},{"k":1,"p":45,"t":78.9,"a":0,"b":5.3},{"k":1,"p":45,"t":79.13,"a":0,"b":3.56},{"k":1,"p":45,"t":79.76,"a":0,"b":3.6},{"k":1,"p":45,"t":79.96,"a":0,"b":3.1},{"k":1,"p":45,"t":80.15,"a":0,"b":5},{"k":1,"p":45,"t":80.55,"a":0,"b":5.2},{"k":1,"p":45,"t":80.84,"a":0,"b":2.86},{"k":1,"p":45,"t":80.88,"a":0,"b":0},
{"k":1,"p":46,"t":81.13,"a":0,"b":0},{"k":1,"p":46,"t":81.14,"a":0,"b":2.4},{"k":1,"p":46,"t":81.53,"a":0,"b":6.6},
{"k":1,"p":47,"t":82.12,"a":0,"b":6.6},{"k":1,"p":47,"t":82.62,"a":0,"b":0},{"k":1,"p":47,"t":82.8,"a":0,"b":4.7},{"k":1,"p":47,"t":83.64,"a":0,"b":2.86},{"k":1,"p":47,"t":83.8,"a":0,"b":4.97},{"k":1,"p":47,"t":84.1,"a":0,"b":6.4},{"k":1,"p":47,"t":84.4,"a":0,"b":5.8},{"k":1,"p":47,"t":85,"a":0,"b":6.4},
{"k":0,"p":48,"t":46.52,"a":15.5,"b":20.9},{"k":0,"p":48,"t":47.18,"a":15.5,"b":20.95},{"k":0,"p":48,"t":48.75,"a":15.5,"b":20.3},{"k":0,"p":48,"t":49.93,"a":15.5,"b":20.7},{"k":0,"p":48,"t":51.3,"a":15.5,"b":19.75},{"k":0,"p":48,"t":52.69,"a":15.5,"b":19.86},{"k":0,"p":48,"t":54.06,"a":15.5,"b":19.04},{"k":0,"p":48,"t":54.65,"a":15.5,"b":19.3},{"k":0,"p":48,"t":55.44,"a":15.5,"b":18.93},{"k":0,"p":48,"t":56.62,"a":15.5,"b":18.85},{"k":0,"p":48,"t":57.02,"a":15.5,"b":19.15},{"k":0,"p":48,"t":58,"a":15.5,"b":19.04},{"k":0,"p":48,"t":59.77,"a":15.5,"b":18.4},{"k":0,"p":48,"t":60.26,"a":15.5,"b":16.7},{"k":0,"p":48,"t":60.95,"a":15.5,"b":16.46},{"k":0,"p":48,"t":61.35,"a":15.5,"b":16.23},{"k":0,"p":48,"t":61.45,"a":15.5,"b":15.5},
{"k":0,"p":49,"t":46.52,"a":14.35,"b":15.5},{"k":0,"p":49,"t":48.16,"a":14.3,"b":15.5},{"k":0,"p":49,"t":51.3,"a":13.77,"b":15.5},{"k":0,"p":49,"t":52.88,"a":14.1,"b":15.5},{"k":0,"p":49,"t":54.65,"a":14.2,"b":15.5},{"k":0,"p":49,"t":56.23,"a":13.88,"b":15.5},{"k":0,"p":49,"t":58.2,"a":14,"b":15.5},{"k":0,"p":49,"t":59.77,"a":14.47,"b":15.5},{"k":0,"p":49,"t":60.13,"a":13.88,"b":15.5},{"k":0,"p":49,"t":60.36,"a":14.1,"b":15.5},{"k":0,"p":49,"t":61.35,"a":14.47,"b":15.5},{"k":0,"p":49,"t":61.45,"a":15.5,"b":15.5},
{"k":0,"p":50,"t":61.55,"a":14.6,"b":14.6},{"k":0,"p":50,"t":61.78,"a":14.3,"b":16.46},{"k":0,"p":50,"t":62.04,"a":14.6,"b":14.6},
{"k":0,"p":51,"t":63,"a":14.63,"b":14.63},{"k":0,"p":51,"t":63.08,"a":14.45,"b":14.95},{"k":0,"p":51,"t":63.17,"a":14.63,"b":14.63},
{"k":0,"p":52,"t":63.5,"a":14.7,"b":14.9},{"k":0,"p":52,"t":63.7,"a":14.55,"b":15},{"k":0,"p":52,"t":64.1,"a":14.63,"b":14.63},
{"k":0,"p":53,"t":64.73,"a":14.4,"b":14.9},{"k":0,"p":53,"t":65.78,"a":14.63,"b":14.63},
{"k":2,"p":54,"t":46.52,"a":11.23,"b":13.06},{"k":2,"p":54,"t":46.78,"a":11.23,"b":13.3},{"k":2,"p":54,"t":47.17,"a":11.23,"b":13},{"k":2,"p":54,"t":48.36,"a":11.23,"b":12.83},{"k":2,"p":54,"t":48.75,"a":11.23,"b":12.6},{"k":2,"p":54,"t":49.04,"a":11.23,"b":12.95},{"k":2,"p":54,"t":49.44,"a":11.23,"b":12.6},{"k":2,"p":54,"t":49.73,"a":11.23,"b":12.83},{"k":2,"p":54,"t":50.42,"a":11.23,"b":11.77},{"k":2,"p":54,"t":50.9,"a":11.23,"b":11.23},
{"k":2,"p":55,"t":46.52,"a":10.6,"b":11.23},{"k":2,"p":55,"t":46.88,"a":10.18,"b":11.23},{"k":2,"p":55,"t":48.16,"a":10.6,"b":11.23},{"k":2,"p":55,"t":48.75,"a":10.88,"b":11.23},{"k":2,"p":55,"t":49.04,"a":10.6,"b":11.23},{"k":2,"p":55,"t":49.73,"a":10.67,"b":11.23},{"k":2,"p":55,"t":50.42,"a":11.23,"b":11.23},
{"k":2,"p":56,"t":52.69,"a":11.2,"b":11.2},{"k":2,"p":56,"t":52.88,"a":11.1,"b":11.65},{"k":2,"p":56,"t":53.08,"a":11.1,"b":11.35},{"k":2,"p":56,"t":53.47,"a":11.1,"b":11.65},{"k":2,"p":56,"t":53.63,"a":11.07,"b":11.07},
{"k":2,"p":57,"t":55.2,"a":11.1,"b":11.1},{"k":2,"p":57,"t":55.25,"a":11.15,"b":12},{"k":2,"p":57,"t":55.64,"a":11.1,"b":11.1},
{"k":2,"p":58,"t":56.78,"a":11.2,"b":11.2},{"k":2,"p":58,"t":57.12,"a":10.75,"b":12.83},{"k":2,"p":58,"t":57.6,"a":11.07,"b":11.5},{"k":2,"p":58,"t":58,"a":11.2,"b":12},{"k":2,"p":58,"t":58.1,"a":11.2,"b":11.2},
{"k":2,"p":59,"t":58.69,"a":11.15,"b":11.15},{"k":2,"p":59,"t":59.12,"a":11.07,"b":12.76},{"k":2,"p":59,"t":59.87,"a":10.95,"b":12.95},{"k":2,"p":59,"t":60.07,"a":11.2,"b":11.2},
{"k":2,"p":60,"t":60.66,"a":11.2,"b":11.2},{"k":2,"p":60,"t":61.45,"a":11.2,"b":11.7},{"k":2,"p":60,"t":62.33,"a":11.3,"b":11.65},{"k":2,"p":60,"t":62.92,"a":11.2,"b":11.4},{"k":2,"p":60,"t":63.02,"a":11.2,"b":11.2},
{"k":2,"p":61,"t":88.52,"a":3.1,"b":3.1},{"k":2,"p":61,"t":88.9,"a":1.2,"b":8.3},{"k":2,"p":61,"t":89.3,"a":1.45,"b":8.5},
{"k":2,"p":62,"t":46.52,"a":23,"b":27},{"k":2,"p":62,"t":48.16,"a":23,"b":27.25},{"k":2,"p":62,"t":49.93,"a":23,"b":27.84},{"k":2,"p":62,"t":52.69,"a":23,"b":27.84},{"k":2,"p":62,"t":54.06,"a":23,"b":28},{"k":2,"p":62,"t":55.44,"a":23,"b":28.43},{"k":2,"p":62,"t":57.8,"a":23,"b":28.8},{"k":2,"p":62,"t":59.6,"a":23,"b":28.66},{"k":2,"p":62,"t":61.74,"a":23,"b":29.25},{"k":2,"p":62,"t":63.1,"a":23,"b":28.8},{"k":2,"p":62,"t":64.3,"a":23,"b":28.66},{"k":2,"p":62,"t":64.8,"a":23,"b":29.13},{"k":2,"p":62,"t":67.45,"a":23,"b":30.4},{"k":2,"p":62,"t":68.43,"a":23,"b":30.77},{"k":2,"p":62,"t":69.6,"a":23,"b":32.4},{"k":2,"p":62,"t":71.8,"a":23,"b":33.7},{"k":2,"p":62,"t":74.34,"a":23,"b":34.5},{"k":2,"p":62,"t":75.3,"a":23,"b":35.1},{"k":2,"p":62,"t":78.08,"a":23,"b":35.2},{"k":2,"p":62,"t":82,"a":23,"b":35.34},{"k":2,"p":62,"t":84,"a":23,"b":35.2},{"k":2,"p":62,"t":85.56,"a":23,"b":35.93},{"k":2,"p":62,"t":89.3,"a":23,"b":36.05},
{"k":2,"p":63,"t":46.52,"a":21.85,"b":23},{"k":2,"p":63,"t":48.9,"a":21.75,"b":23},{"k":2,"p":63,"t":52.1,"a":21.6,"b":23},{"k":2,"p":63,"t":54.46,"a":21.6,"b":23},{"k":2,"p":63,"t":56,"a":21.86,"b":23},{"k":2,"p":63,"t":57.8,"a":21.75,"b":23},{"k":2,"p":63,"t":59.87,"a":21.6,"b":23},{"k":2,"p":63,"t":60,"a":20.2,"b":23},{"k":2,"p":63,"t":60.26,"a":18.9,"b":23},{"k":2,"p":63,"t":61.74,"a":18.8,"b":23},{"k":2,"p":63,"t":63.5,"a":18.2,"b":23},{"k":2,"p":63,"t":64.4,"a":17.4,"b":23},{"k":2,"p":63,"t":64.8,"a":17.7,"b":23},{"k":2,"p":63,"t":68.73,"a":16.2,"b":23},{"k":2,"p":63,"t":69.1,"a":15.64,"b":23},{"k":2,"p":63,"t":70.4,"a":14.94,"b":23},{"k":2,"p":63,"t":71,"a":14,"b":23},{"k":2,"p":63,"t":72,"a":13.3,"b":23},{"k":2,"p":63,"t":72.38,"a":11.4,"b":23},{"k":2,"p":63,"t":72.97,"a":10.95,"b":23},{"k":2,"p":63,"t":73.86,"a":10.84,"b":23},{"k":2,"p":63,"t":74.15,"a":10.4,"b":23},{"k":2,"p":63,"t":75,"a":9.66,"b":23},{"k":2,"p":63,"t":75.2,"a":9.3,"b":23},{"k":2,"p":63,"t":76.4,"a":10.13,"b":23},{"k":2,"p":63,"t":77.6,"a":9.3,"b":23},{"k":2,"p":63,"t":78.5,"a":10,"b":23},{"k":2,"p":63,"t":80.06,"a":10.13,"b":23},{"k":2,"p":63,"t":81.04,"a":11.35,"b":23},{"k":2,"p":63,"t":81.53,"a":10.25,"b":23},{"k":2,"p":63,"t":82.62,"a":11.9,"b":23},{"k":2,"p":63,"t":82.8,"a":11.3,"b":23},{"k":2,"p":63,"t":83.6,"a":11.77,"b":23},{"k":2,"p":63,"t":84.4,"a":11.4,"b":23},{"k":2,"p":63,"t":85.57,"a":11.3,"b":23},{"k":2,"p":63,"t":85.96,"a":14.1,"b":23},{"k":2,"p":63,"t":86.55,"a":14.47,"b":23},{"k":2,"p":63,"t":87.05,"a":14.2,"b":23},{"k":2,"p":63,"t":87.24,"a":11.77,"b":23},{"k":2,"p":63,"t":88,"a":10.37,"b":23},{"k":2,"p":63,"t":88.9,"a":8.25,"b":23},{"k":2,"p":63,"t":89.3,"a":8.5,"b":23},
{"k":3,"p":64,"t":46.52,"a":24.2,"b":24.55},{"k":3,"p":64,"t":46.98,"a":24.2,"b":24.2},{"k":3,"p":64,"t":47.08,"a":24.2,"b":24.44},{"k":3,"p":64,"t":48.36,"a":24.2,"b":24.8},{"k":3,"p":64,"t":48.75,"a":24.2,"b":25.14},{"k":3,"p":64,"t":49.93,"a":24.2,"b":25.38},{"k":3,"p":64,"t":51.3,"a":24.2,"b":25.96},{"k":3,"p":64,"t":52.88,"a":24.2,"b":25.96},{"k":3,"p":64,"t":54.46,"a":24.2,"b":26.13},{"k":3,"p":64,"t":57.8,"a":24.2,"b":26.67},{"k":3,"p":64,"t":59.6,"a":24.2,"b":26.67},{"k":3,"p":64,"t":60.26,"a":24.2,"b":26.13},{"k":3,"p":64,"t":61.74,"a":24.2,"b":26.78},{"k":3,"p":64,"t":62.53,"a":24.2,"b":26.36},{"k":3,"p":64,"t":63.6,"a":24.2,"b":26.78},{"k":3,"p":64,"t":64.7,"a":24.2,"b":26.43},{"k":3,"p":64,"t":64.8,"a":24.2,"b":26.83},{"k":3,"p":64,"t":67.45,"a":24.2,"b":27.6},{"k":3,"p":64,"t":68.43,"a":24.2,"b":28.07},{"k":3,"p":64,"t":68.83,"a":24.2,"b":28.66},{"k":3,"p":64,"t":69.7,"a":24.2,"b":28.9},{"k":3,"p":64,"t":70.8,"a":24.2,"b":30.18},{"k":3,"p":64,"t":73.06,"a":24.2,"b":31.1},{"k":3,"p":64,"t":73.35,"a":24.2,"b":31.47},{"k":3,"p":64,"t":75.3,"a":24.2,"b":32.4},{"k":3,"p":64,"t":76.1,"a":24.2,"b":32.5},{"k":3,"p":64,"t":80,"a":24.2,"b":32.76},{"k":3,"p":64,"t":84,"a":24.2,"b":32.5},{"k":3,"p":64,"t":85.56,"a":24.2,"b":33.1},{"k":3,"p":64,"t":89.3,"a":24.2,"b":33.7},
{"k":3,"p":65,"t":46.52,"a":23.5,"b":24.2},{"k":3,"p":65,"t":46.98,"a":24.2,"b":24.2},{"k":3,"p":65,"t":47.08,"a":23.73,"b":24.2},{"k":3,"p":65,"t":48.65,"a":22.45,"b":24.2},{"k":3,"p":65,"t":50.7,"a":22.3,"b":24.2},{"k":3,"p":65,"t":54.46,"a":22.1,"b":24.2},{"k":3,"p":65,"t":56.8,"a":22,"b":24.2},{"k":3,"p":65,"t":60,"a":21.6,"b":24.2},{"k":3,"p":65,"t":60.26,"a":20.45,"b":24.2},{"k":3,"p":65,"t":61.55,"a":20.2,"b":24.2},{"k":3,"p":65,"t":62.24,"a":19.5,"b":24.2},{"k":3,"p":65,"t":64.4,"a":19.47,"b":24.2},{"k":3,"p":65,"t":64.8,"a":19.4,"b":24.2},{"k":3,"p":65,"t":68.63,"a":17.75,"b":24.2},{"k":3,"p":65,"t":69,"a":17.2,"b":24.2},{"k":3,"p":65,"t":72,"a":14.7,"b":24.2},{"k":3,"p":65,"t":73.95,"a":12.95,"b":24.2},{"k":3,"p":65,"t":75.2,"a":11.07,"b":24.2},{"k":3,"p":65,"t":76.5,"a":11.77,"b":24.2},{"k":3,"p":65,"t":77.6,"a":10.95,"b":24.2},{"k":3,"p":65,"t":78.3,"a":11.4,"b":24.2},{"k":3,"p":65,"t":80,"a":12.1,"b":24.2},{"k":3,"p":65,"t":80.45,"a":11.65,"b":24.2},{"k":3,"p":65,"t":81,"a":13.77,"b":24.2},{"k":3,"p":65,"t":81.5,"a":12.6,"b":24.2},{"k":3,"p":65,"t":82.6,"a":14.35,"b":24.2},{"k":3,"p":65,"t":82.8,"a":13.9,"b":24.2},{"k":3,"p":65,"t":84.4,"a":14.6,"b":24.2},{"k":3,"p":65,"t":85.8,"a":15.4,"b":24.2},{"k":3,"p":65,"t":86.5,"a":16.35,"b":24.2},{"k":3,"p":65,"t":87.2,"a":16,"b":24.2},{"k":3,"p":65,"t":88,"a":16.2,"b":24.2},{"k":3,"p":65,"t":88.7,"a":14.8,"b":24.2},{"k":3,"p":65,"t":88.9,"a":10.8,"b":24.2},{"k":3,"p":65,"t":89.3,"a":10.8,"b":24.2},
{"k":4,"p":66,"t":55.93,"a":24.67,"b":24.67},{"k":4,"p":66,"t":56.13,"a":23.15,"b":24.7},{"k":4,"p":66,"t":56.43,"a":23,"b":24.72},{"k":4,"p":66,"t":57.1,"a":24.25,"b":24.72},{"k":4,"p":66,"t":57.2,"a":24.3,"b":24.3},{"k":4,"p":66,"t":57.7,"a":23.73,"b":24.75},{"k":4,"p":66,"t":58.2,"a":22.75,"b":25},{"k":4,"p":66,"t":58.4,"a":22.72,"b":25.14},{"k":4,"p":66,"t":59.6,"a":22.68,"b":24.95},{"k":4,"p":66,"t":59.87,"a":22.68,"b":25},{"k":4,"p":66,"t":60.2,"a":23.5,"b":23.5},
{"k":4,"p":67,"t":60.26,"a":22.68,"b":22.68},{"k":4,"p":67,"t":60.56,"a":22.68,"b":23.5},{"k":4,"p":67,"t":61.15,"a":22.68,"b":23.5},{"k":4,"p":67,"t":61.35,"a":22.68,"b":23.85},{"k":4,"p":67,"t":61.74,"a":22.68,"b":24},{"k":4,"p":67,"t":62.53,"a":22.68,"b":24},{"k":4,"p":67,"t":63.53,"a":22.68,"b":24.9},{"k":4,"p":67,"t":64.7,"a":22.68,"b":24.55},{"k":4,"p":67,"t":64.8,"a":22.68,"b":24.95},{"k":4,"p":67,"t":67.45,"a":22.68,"b":25.6},{"k":4,"p":67,"t":68.63,"a":22.68,"b":26.8},{"k":4,"p":67,"t":69.81,"a":22.68,"b":27},{"k":4,"p":67,"t":70.7,"a":22.68,"b":28.2},{"k":4,"p":67,"t":71.2,"a":22.68,"b":28},{"k":4,"p":67,"t":72.2,"a":22.68,"b":28.4},{"k":4,"p":67,"t":73.36,"a":22.68,"b":29.2},{"k":4,"p":67,"t":74.44,"a":22.68,"b":29.95},{"k":4,"p":67,"t":76.1,"a":22.68,"b":30.4},{"k":4,"p":67,"t":77.7,"a":22.68,"b":30.8},{"k":4,"p":67,"t":81.23,"a":22.68,"b":31},{"k":4,"p":67,"t":82.6,"a":22.68,"b":30.5},{"k":4,"p":67,"t":84.77,"a":22.68,"b":31},{"k":4,"p":67,"t":85.56,"a":22.68,"b":31.35},{"k":4,"p":67,"t":87.9,"a":22.68,"b":31.8},{"k":4,"p":67,"t":89.3,"a":22.68,"b":31.66},
{"k":4,"p":68,"t":60.26,"a":22.68,"b":22.68},{"k":4,"p":68,"t":60.56,"a":22.3,"b":22.68},{"k":4,"p":68,"t":60.85,"a":22.55,"b":22.68},{"k":4,"p":68,"t":61.45,"a":21.86,"b":22.68},{"k":4,"p":68,"t":61.84,"a":22.2,"b":22.68},{"k":4,"p":68,"t":62.04,"a":21.15,"b":22.68},{"k":4,"p":68,"t":62.53,"a":21,"b":22.68},{"k":4,"p":68,"t":63.1,"a":20.45,"b":22.68},{"k":4,"p":68,"t":63.9,"a":20.45,"b":22.68},{"k":4,"p":68,"t":64.4,"a":19.56,"b":22.68},{"k":4,"p":68,"t":64.8,"a":19.7,"b":22.68},{"k":4,"p":68,"t":67.65,"a":18.9,"b":22.68},{"k":4,"p":68,"t":68.63,"a":18.46,"b":22.68},{"k":4,"p":68,"t":69,"a":17.87,"b":22.68},{"k":4,"p":68,"t":69.8,"a":17.17,"b":22.68},{"k":4,"p":68,"t":72,"a":15.5,"b":22.68},{"k":4,"p":68,"t":74.15,"a":14.1,"b":22.68},{"k":4,"p":68,"t":75.2,"a":13,"b":22.68},{"k":4,"p":68,"t":76.4,"a":14,"b":22.68},{"k":4,"p":68,"t":77.3,"a":13.77,"b":22.68},{"k":4,"p":68,"t":77.66,"a":13,"b":22.68},{"k":4,"p":68,"t":78,"a":13.7,"b":22.68},{"k":4,"p":68,"t":78.8,"a":13.4,"b":22.68},{"k":4,"p":68,"t":79.86,"a":14.2,"b":22.68},{"k":4,"p":68,"t":80.45,"a":14.1,"b":22.68},{"k":4,"p":68,"t":81,"a":15.3,"b":22.68},{"k":4,"p":68,"t":81.53,"a":14.94,"b":22.68},{"k":4,"p":68,"t":82,"a":15.4,"b":22.68},{"k":4,"p":68,"t":82.4,"a":15.3,"b":22.68},{"k":4,"p":68,"t":82.7,"a":15.64,"b":22.68},{"k":4,"p":68,"t":83.4,"a":15.5,"b":22.68},{"k":4,"p":68,"t":84.4,"a":15.9,"b":22.68},{"k":4,"p":68,"t":85.8,"a":16.6,"b":22.68},{"k":4,"p":68,"t":87.14,"a":16.93,"b":22.68},{"k":4,"p":68,"t":88,"a":17.17,"b":22.68},{"k":4,"p":68,"t":89.3,"a":16.5,"b":22.68},
{"k":5,"p":69,"t":64.2,"a":21.5,"b":21.5},{"k":5,"p":69,"t":64.8,"a":21.5,"b":22.45},{"k":5,"p":69,"t":65.5,"a":21.5,"b":23.27},{"k":5,"p":69,"t":67.65,"a":21.5,"b":23.97},{"k":5,"p":69,"t":68.33,"a":21.5,"b":24.6},{"k":5,"p":69,"t":69.42,"a":21.5,"b":25.6},{"k":5,"p":69,"t":70.6,"a":21.5,"b":26.55},{"k":5,"p":69,"t":71.8,"a":21.5,"b":27.7},{"k":5,"p":69,"t":73.36,"a":21.5,"b":28.2},{"k":5,"p":69,"t":74.34,"a":21.5,"b":28.3},{"k":5,"p":69,"t":76.1,"a":21.5,"b":28.66},{"k":5,"p":69,"t":77.7,"a":21.5,"b":29.2},{"k":5,"p":69,"t":79.65,"a":21.5,"b":29.5},{"k":5,"p":69,"t":81.2,"a":21.5,"b":29.35},{"k":5,"p":69,"t":82.6,"a":21.5,"b":29},{"k":5,"p":69,"t":84.77,"a":21.5,"b":29.5},{"k":5,"p":69,"t":85.56,"a":21.5,"b":30},{"k":5,"p":69,"t":87.9,"a":21.5,"b":30.4},{"k":5,"p":69,"t":89.3,"a":21.5,"b":29.95},
{"k":5,"p":70,"t":64.2,"a":21.5,"b":21.5},{"k":5,"p":70,"t":64.8,"a":21.27,"b":21.5},{"k":5,"p":70,"t":67.65,"a":19.75,"b":21.5},{"k":5,"p":70,"t":68.73,"a":19.3,"b":21.5},{"k":5,"p":70,"t":69.1,"a":18.8,"b":21.5},{"k":5,"p":70,"t":69.8,"a":17.87,"b":21.5},{"k":5,"p":70,"t":72,"a":16.8,"b":21.5},{"k":5,"p":70,"t":75.2,"a":14.35,"b":21.5},{"k":5,"p":70,"t":76.5,"a":15.3,"b":21.5},{"k":5,"p":70,"t":77.6,"a":14.7,"b":21.5},{"k":5,"p":70,"t":78.7,"a":14.94,"b":21.5},{"k":5,"p":70,"t":80.45,"a":15.5,"b":21.5},{"k":5,"p":70,"t":81.63,"a":16.2,"b":21.5},{"k":5,"p":70,"t":83.4,"a":16.7,"b":21.5},{"k":5,"p":70,"t":85.57,"a":17.4,"b":21.5},{"k":5,"p":70,"t":87.9,"a":18.15,"b":21.5},{"k":5,"p":70,"t":89.3,"a":17.75,"b":21.5},
{"k":6,"p":71,"t":67.55,"a":21.74,"b":21.74},{"k":6,"p":71,"t":68.43,"a":21.74,"b":23},{"k":6,"p":71,"t":68.83,"a":21.74,"b":23.6},{"k":6,"p":71,"t":69.12,"a":21.74,"b":23.85},{"k":6,"p":71,"t":70,"a":21.74,"b":24.2},{"k":6,"p":71,"t":71.2,"a":21.74,"b":25.25},{"k":6,"p":71,"t":72,"a":21.74,"b":25.25},{"k":6,"p":71,"t":72.6,"a":21.74,"b":26.3},{"k":6,"p":71,"t":73.36,"a":21.74,"b":26.78},{"k":6,"p":71,"t":74.5,"a":21.74,"b":27.1},{"k":6,"p":71,"t":75.3,"a":21.74,"b":26.9},{"k":6,"p":71,"t":76.1,"a":21.74,"b":27.37},{"k":6,"p":71,"t":77.7,"a":21.74,"b":27.7},{"k":6,"p":71,"t":79.65,"a":21.74,"b":28.07},{"k":6,"p":71,"t":81.23,"a":21.74,"b":27.7},{"k":6,"p":71,"t":82,"a":21.74,"b":28.2},{"k":6,"p":71,"t":82.4,"a":21.74,"b":27.85},{"k":6,"p":71,"t":84.77,"a":21.74,"b":28.2},{"k":6,"p":71,"t":85.56,"a":21.74,"b":28.77},{"k":6,"p":71,"t":86.35,"a":21.74,"b":28.3},{"k":6,"p":71,"t":87.9,"a":21.74,"b":29},{"k":6,"p":71,"t":89.3,"a":21.74,"b":28.54},
{"k":6,"p":72,"t":67.55,"a":21.74,"b":21.74},{"k":6,"p":72,"t":68.04,"a":20,"b":21.74},{"k":6,"p":72,"t":69.42,"a":20,"b":21.74},{"k":6,"p":72,"t":70,"a":18.8,"b":21.74},{"k":6,"p":72,"t":70.8,"a":18.1,"b":21.74},{"k":6,"p":72,"t":71.7,"a":17.04,"b":21.74},{"k":6,"p":72,"t":72.1,"a":16.93,"b":21.74},{"k":6,"p":72,"t":75.2,"a":15.17,"b":21.74},{"k":6,"p":72,"t":76.5,"a":15.88,"b":21.74},{"k":6,"p":72,"t":78.7,"a":15.88,"b":21.74},{"k":6,"p":72,"t":80.45,"a":16.35,"b":21.74},{"k":6,"p":72,"t":82,"a":17.64,"b":21.74},{"k":6,"p":72,"t":83.2,"a":17.5,"b":21.74},{"k":6,"p":72,"t":85.5,"a":18.6,"b":21.74},{"k":6,"p":72,"t":87,"a":19,"b":21.74},{"k":6,"p":72,"t":89.3,"a":19.3,"b":21.74},
{"k":7,"p":73,"t":68.62,"a":21.75,"b":21.75},{"k":7,"p":73,"t":68.73,"a":21.4,"b":22.1},{"k":7,"p":73,"t":68.84,"a":21.75,"b":21.75},
{"k":7,"p":74,"t":70.6,"a":21.6,"b":21.6},{"k":7,"p":74,"t":71.15,"a":21.6,"b":23.85},{"k":7,"p":74,"t":71.7,"a":21.6,"b":23.7},{"k":7,"p":74,"t":73.16,"a":21.6,"b":25.6},{"k":7,"p":74,"t":74.2,"a":21.6,"b":26},{"k":7,"p":74,"t":75.3,"a":21.6,"b":25.4},{"k":7,"p":74,"t":76.3,"a":21.6,"b":26.2},{"k":7,"p":74,"t":77.9,"a":21.6,"b":25.6},{"k":7,"p":74,"t":79.65,"a":21.6,"b":26.5},{"k":7,"p":74,"t":80.54,"a":21.6,"b":25.6},{"k":7,"p":74,"t":81.23,"a":21.6,"b":26.9},{"k":7,"p":74,"t":82,"a":21.6,"b":26.1},{"k":7,"p":74,"t":82.4,"a":21.6,"b":27},{"k":7,"p":74,"t":83.2,"a":21.6,"b":26.3},{"k":7,"p":74,"t":84.77,"a":21.6,"b":27},{"k":7,"p":74,"t":86.35,"a":21.6,"b":27.37},{"k":7,"p":74,"t":87.14,"a":21.6,"b":26.5},{"k":7,"p":74,"t":87.9,"a":21.6,"b":27.5},{"k":7,"p":74,"t":88.4,"a":21.6,"b":27},{"k":7,"p":74,"t":89.3,"a":21.6,"b":27},
{"k":7,"p":75,"t":70.6,"a":20.45,"b":21.6},{"k":7,"p":75,"t":71.1,"a":18.3,"b":21.6},{"k":7,"p":75,"t":71.7,"a":17.9,"b":21.6},{"k":7,"p":75,"t":72.2,"a":17.64,"b":21.6},{"k":7,"p":75,"t":75.2,"a":16,"b":21.6},{"k":7,"p":75,"t":76.5,"a":16.7,"b":21.6},{"k":7,"p":75,"t":78.7,"a":16.9,"b":21.6},{"k":7,"p":75,"t":80.45,"a":17.4,"b":21.6},{"k":7,"p":75,"t":81,"a":18.34,"b":21.6},{"k":7,"p":75,"t":82.4,"a":18.9,"b":21.6},{"k":7,"p":75,"t":83.8,"a":19.5,"b":21.6},{"k":7,"p":75,"t":85.6,"a":19.7,"b":21.6},{"k":7,"p":75,"t":87.1,"a":20.2,"b":21.6},{"k":7,"p":75,"t":88,"a":21.4,"b":21.6},{"k":7,"p":75,"t":89.1,"a":20,"b":21.6},{"k":7,"p":75,"t":89.3,"a":20,"b":21.6},
{"k":8,"p":76,"t":71.6,"a":22.2,"b":22.2},{"k":8,"p":76,"t":71.8,"a":22.2,"b":22.3},{"k":8,"p":76,"t":72.37,"a":22.2,"b":22.8},{"k":8,"p":76,"t":73.16,"a":22.2,"b":24.55},{"k":8,"p":76,"t":73.75,"a":22.2,"b":24.9},{"k":8,"p":76,"t":74.34,"a":22.2,"b":24.8},{"k":8,"p":76,"t":75.3,"a":22.2,"b":24.2},{"k":8,"p":76,"t":75.7,"a":22.2,"b":24.65},{"k":8,"p":76,"t":77.3,"a":22.2,"b":24.65},{"k":8,"p":76,"t":77.7,"a":22.2,"b":24.2},{"k":8,"p":76,"t":79.65,"a":22.2,"b":25},{"k":8,"p":76,"t":80.54,"a":22.2,"b":24.2},{"k":8,"p":76,"t":81.2,"a":22.2,"b":25.4},{"k":8,"p":76,"t":81.9,"a":22.2,"b":25.25},{"k":8,"p":76,"t":82.3,"a":22.2,"b":24.8},{"k":8,"p":76,"t":82.6,"a":22.2,"b":25.5},{"k":8,"p":76,"t":83.8,"a":22.2,"b":25.7},{"k":8,"p":76,"t":85.36,"a":22.2,"b":25.5},{"k":8,"p":76,"t":85.66,"a":22.2,"b":25.25},{"k":8,"p":76,"t":86.65,"a":22.2,"b":25.6},{"k":8,"p":76,"t":86.94,"a":22.2,"b":24.4},{"k":8,"p":76,"t":87.11,"a":22.2,"b":23.5},
{"k":8,"p":77,"t":71.6,"a":20.7,"b":22.2},{"k":8,"p":77,"t":72.1,"a":18.6,"b":22.2},{"k":8,"p":77,"t":72.3,"a":19,"b":22.2},{"k":8,"p":77,"t":73.16,"a":17.6,"b":22.2},{"k":8,"p":77,"t":74.74,"a":16.7,"b":22.2},{"k":8,"p":77,"t":76.5,"a":17.3,"b":22.2},{"k":8,"p":77,"t":78,"a":17.75,"b":22.2},{"k":8,"p":77,"t":79.7,"a":17.87,"b":22.2},{"k":8,"p":77,"t":81.24,"a":18.6,"b":22.2},{"k":8,"p":77,"t":82.8,"a":19.27,"b":22.2},{"k":8,"p":77,"t":83.8,"a":19.4,"b":22.2},{"k":8,"p":77,"t":84.77,"a":20.4,"b":22.2},{"k":8,"p":77,"t":85.36,"a":22.1,"b":22.2},{"k":8,"p":77,"t":85.85,"a":20.9,"b":22.2},{"k":8,"p":77,"t":86.45,"a":21.85,"b":22.2},{"k":8,"p":77,"t":87.11,"a":21.5,"b":22.2},
{"k":9,"p":78,"t":72.63,"a":21,"b":21},{"k":9,"p":78,"t":72.77,"a":21,"b":21.85},{"k":9,"p":78,"t":73.16,"a":21,"b":23.4},{"k":9,"p":78,"t":73.75,"a":21,"b":23.85},{"k":9,"p":78,"t":74.24,"a":21,"b":23.6},{"k":9,"p":78,"t":74.83,"a":21,"b":23.5},{"k":9,"p":78,"t":75.13,"a":21,"b":22.84},{"k":9,"p":78,"t":75.5,"a":21,"b":23.3},{"k":9,"p":78,"t":76.4,"a":21,"b":23.4},{"k":9,"p":78,"t":76.9,"a":21,"b":23.15},{"k":9,"p":78,"t":77.3,"a":21,"b":22.8},{"k":9,"p":78,"t":77.6,"a":21,"b":22.2},{"k":9,"p":78,"t":78.08,"a":21,"b":22.27},{"k":9,"p":78,"t":78.67,"a":21,"b":22.9},{"k":9,"p":78,"t":78.97,"a":21,"b":22.55},{"k":9,"p":78,"t":79.26,"a":21,"b":23},{"k":9,"p":78,"t":79.95,"a":21,"b":23.45},{"k":9,"p":78,"t":80.44,"a":21,"b":21.6},
{"k":9,"p":79,"t":72.63,"a":21,"b":21},{"k":9,"p":79,"t":72.77,"a":19.04,"b":21},{"k":9,"p":79,"t":73.36,"a":18.1,"b":21},{"k":9,"p":79,"t":74.14,"a":17.6,"b":21},{"k":9,"p":79,"t":74.83,"a":17.4,"b":21},{"k":9,"p":79,"t":76.1,"a":17.9,"b":21},{"k":9,"p":79,"t":76.5,"a":18.6,"b":21},{"k":9,"p":79,"t":76.9,"a":18.3,"b":21},{"k":9,"p":79,"t":77.9,"a":19,"b":21},{"k":9,"p":79,"t":78.5,"a":18.7,"b":21},{"k":9,"p":79,"t":79.26,"a":19.15,"b":21},{"k":9,"p":79,"t":79.85,"a":18.9,"b":21},{"k":9,"p":79,"t":80.44,"a":19.6,"b":21},
{"k":9,"p":80,"t":80.6,"a":20,"b":21.15},{"k":9,"p":80,"t":80.74,"a":19.6,"b":22.7},{"k":9,"p":80,"t":80.83,"a":19.6,"b":22.4},{"k":9,"p":80,"t":81.13,"a":20.5,"b":22.7},{"k":9,"p":80,"t":81.23,"a":20.8,"b":23.54},{"k":9,"p":80,"t":81.47,"a":21.5,"b":21.5},
{"k":9,"p":81,"t":82.31,"a":21.85,"b":21.85},{"k":9,"p":81,"t":82.56,"a":20.3,"b":24},{"k":9,"p":81,"t":82.8,"a":21.4,"b":22},
{"k":9,"p":82,"t":82.8,"a":21.6,"b":21.6},{"k":9,"p":82,"t":83.04,"a":21.05,"b":23.4},{"k":9,"p":82,"t":83.63,"a":20.9,"b":24},{"k":9,"p":82,"t":83.8,"a":21.5,"b":23.5},
{"k":10,"p":90,"t":26.2,"a":0,"b":0},{"k":10,"p":90,"t":26.7,"a":0,"b":0.46},{"k":10,"p":90,"t":27.28,"a":0,"b":0.55},{"k":10,"p":90,"t":28.07,"a":0,"b":1},{"k":10,"p":90,"t":28.66,"a":0,"b":1.2},{"k":10,"p":90,"t":29.16,"a":0,"b":1.1},{"k":10,"p":90,"t":29.55,"a":0,"b":1.57},{"k":10,"p":90,"t":29.84,"a":0,"b":2.27},{"k":10,"p":90,"t":30.24,"a":0,"b":2.34},{"k":10,"p":90,"t":31.22,"a":0,"b":2.15},{"k":10,"p":90,"t":32.8,"a":0,"b":1.9},{"k":10,"p":90,"t":34.77,"a":0,"b":1.8},{"k":10,"p":90,"t":35.55,"a":0,"b":1.9},{"k":10,"p":90,"t":36.34,"a":0,"b":1.8},{"k":10,"p":90,"t":38.31,"a":0,"b":2},{"k":10,"p":90,"t":39.1,"a":0,"b":2.34},{"k":10,"p":90,"t":42.25,"a":0,"b":2.5},{"k":10,"p":90,"t":46.5,"a":0,"b":3.05},{"k":10,"p":90,"t":47.37,"a":0,"b":2.9},{"k":10,"p":90,"t":48.55,"a":0,"b":2.4},{"k":10,"p":90,"t":49.24,"a":0,"b":1.87},{"k":10,"p":90,"t":49.93,"a":0,"b":1},{"k":10,"p":90,"t":50.9,"a":0,"b":0},
{"k":10,"p":91,"t":42.23,"a":0,"b":50},{"k":10,"p":91,"t":46.53,"a":0,"b":50},
{"k":10,"p":92,"t":61.35,"a":0,"b":0.87},{"k":10,"p":92,"t":61.74,"a":0,"b":0.8},{"k":10,"p":92,"t":62.04,"a":0,"b":1},{"k":10,"p":92,"t":62.92,"a":0,"b":0.16},{"k":10,"p":92,"t":63,"a":0,"b":0},
{"k":10,"p":93,"t":88.3,"a":0,"b":0},{"k":10,"p":93,"t":88.9,"a":0,"b":0.5},{"k":10,"p":93,"t":89.2,"a":0,"b":0.75},{"k":10,"p":93,"t":89.3,"a":0,"b":0.75}
],
"colorbar":[{"k":0,"lo":1,"hi":2.5},{"k":1,"lo":2.5,"hi":4},{"k":2,"lo":4,"hi":5.5},{"k":3,"lo":5.5,"hi":7},{"k":4,"lo":7,"hi":8.5},{"k":5,"lo":8.5,"hi":10},{"k":6,"lo":10,"hi":11.5},{"k":7,"lo":11.5,"hi":13},{"k":8,"lo":13,"hi":16.5},{"k":9,"lo":16.5,"hi":20}]},
"hconcat":[{"width":1512,"height":710.6,"layer":[
{"data":{"name":"contours"},"mark":{"type":"area","interpolate":"linear","strokeWidth":0.6},"encoding":{
"x":{"field":"t","type":"quantitative","scale":{"domain":[0,89.3],"nice":false,"zero":false},"axis":{"title":null,"grid":false,"zindex":1,"values":[0,5,10,15,20,25,30,35,40,44.2,49.3,54.3,59.3,64.3,69.3,74.3,79.3,84.3,89.3],"labelExpr":"datum.value<=40?'−'+(45+datum.value):datum.value<45?'−90':'−'+round(45+89.3-datum.value)","labelFontSize":17,"labelColor":"black","labelPadding":11,"tickSize":8,"tickWidth":1.5,"tickColor":"black","domainColor":"black","domainWidth":2.5,"labelFlush":false,"labelOverlap":false,"tickOpacity":{"condition":{"test":"datum.value>44&&datum.value<45","value":0},"value":1}}},
"y":{"field":"b","type":"quantitative","scale":{"domain":[0,50],"nice":false,"zero":false},"axis":{"title":null,"grid":false,"zindex":1,"values":[0,10,20,30,40,50],"labelFontSize":17,"labelColor":"black","labelPadding":10,"tickSize":9,"tickWidth":1.5,"tickColor":"black","domainColor":"black","domainWidth":1.5}},
"y2":{"field":"a"},
"color":{"field":"k","type":"nominal","legend":null,"scale":{"domain":[0,1,2,3,4,5,6,7,8,9,10],"range":["#DEF0FF","#9CD6FE","#7ABAEA","#4189D0","#3F9A72","#43A845","#C1D255","#FFDF56","#FF9A38","#E53427","#F0F0F0"]}},
"stroke":{"field":"k","type":"nominal","legend":null,"scale":{"domain":[0,1,2,3,4,5,6,7,8,9,10],"range":["#DEF0FF","#9CD6FE","#7ABAEA","#4189D0","#3F9A72","#43A845","#C1D255","#FFDF56","#FF9A38","#E53427","#F0F0F0"]}},
"detail":{"field":"p","type":"nominal"}}},
{"data":{"values":[{"t":0,"t2":11.1},{"t":35.2,"t2":89.3}]},"mark":{"type":"rule","color":"black","strokeWidth":1.5},"encoding":{"x":{"field":"t","type":"quantitative"},"x2":{"field":"t2"},"y":{"datum":50}}},
{"data":{"values":[{"t":11.1,"t2":35.2}]},"mark":{"type":"rule","color":"#8c9aa5","strokeWidth":1},"encoding":{"x":{"field":"t","type":"quantitative"},"x2":{"field":"t2"},"y":{"datum":50}}},
{"data":{"values":[{"t":89.3,"a":0,"b":50}]},"mark":{"type":"rule","color":"black","strokeWidth":1.5},"encoding":{"x":{"field":"t","type":"quantitative"},"y":{"field":"a","type":"quantitative"},"y2":{"field":"b"}}},
{"data":{"values":[{"t":22.56,"y":-4,"s":"Latitude [°]"},{"t":66.75,"y":-4,"s":"Latitude [°]"}]},"mark":{"type":"text","fontSize":18,"font":"DejaVu Sans","color":"black","align":"center","baseline":"middle"},"encoding":{"x":{"field":"t","type":"quantitative"},"y":{"field":"y","type":"quantitative"},"text":{"field":"s"}}},
{"data":{"values":[{"t":-3.57,"y":25,"s":"Altitude [km]"}]},"mark":{"type":"text","fontSize":18,"font":"DejaVu Sans","color":"black","align":"center","baseline":"middle","angle":270},"encoding":{"x":{"field":"t","type":"quantitative"},"y":{"field":"y","type":"quantitative"},"text":{"field":"s"}}},
{"data":{"values":[{"t":62,"t2":72,"a":-5.5,"b":-3.53},{"t":-4.6,"t2":-3.9,"a":18,"b":32}]},"mark":{"type":"rect","color":"white"},"encoding":{"x":{"field":"t","type":"quantitative"},"x2":{"field":"t2"},"y":{"field":"a","type":"quantitative"},"y2":{"field":"b"}}},
{"data":{"values":[{"t":-5.55,"y":49.73,"s":"50"},{"t":-5.97,"y":0.34,"s":"0"},{"t":-1.48,"y":-4.51,"s":"-45"},{"t":43.53,"y":-4.95,"s":"-90"},{"t":87.86,"y":-4.74,"s":"-45"},{"t":45.5,"y":-10,"s":"Latitude [°]"},{"t":23.1,"y":52.4,"s":"Longitude -10°"},{"t":66.4,"y":53.06,"s":"Longitude 170°"}]},"mark":{"type":"text","fontSize":49,"font":"DejaVu Sans","color":"black","align":"center","baseline":"middle"},"encoding":{"x":{"field":"t","type":"quantitative"},"y":{"field":"y","type":"quantitative"},"text":{"field":"s"}}},
{"data":{"values":[{"t":-5.9,"y":25,"s":"Altitude [km]"}]},"mark":{"type":"text","fontSize":49,"font":"DejaVu Sans","color":"black","align":"center","baseline":"middle","angle":270},"encoding":{"x":{"field":"t","type":"quantitative"},"y":{"field":"y","type":"quantitative"},"text":{"field":"s"}}}
]},
{"width":36,"height":710.6,"layer":[
{"data":{"name":"colorbar"},"mark":{"type":"rect"},"encoding":{
"y":{"field":"lo","type":"quantitative","scale":{"domain":[1,4,7,10,13,20],"range":[710.6,568.48,426.36,284.24,142.12,0],"nice":false,"zero":false},"axis":{"orient":"right","title":"Ozone Partial Pressure [mPa]","titleFontSize":38,"titleFontWeight":"normal","titleColor":"black","titleAngle":90,"titleY":347,"titlePadding":26,"values":[1,4,7,10,13,20],"grid":false,"labelFontSize":17,"labelColor":"black","labelPadding":10,"tickSize":8,"tickWidth":1.5,"tickColor":"black","domain":false}},
"y2":{"field":"hi"},
"color":{"field":"k","type":"nominal","legend":null,"scale":{"domain":[0,1,2,3,4,5,6,7,8,9],"range":["#DEF0FF","#9CD6FE","#7ABAEA","#4189D0","#3F9A72","#43A845","#C1D255","#FFDF56","#FF9A38","#E53427"]}}}},
{"data":{"values":[{"lo":1,"hi":20}]},"mark":{"type":"rect","filled":false,"stroke":"black","strokeWidth":1.5},"encoding":{"y":{"field":"lo","type":"quantitative"},"y2":{"field":"hi"}}}
]}
],"spacing":28.8,"resolve":{"scale":{"color":"independent","stroke":"independent"}}}
